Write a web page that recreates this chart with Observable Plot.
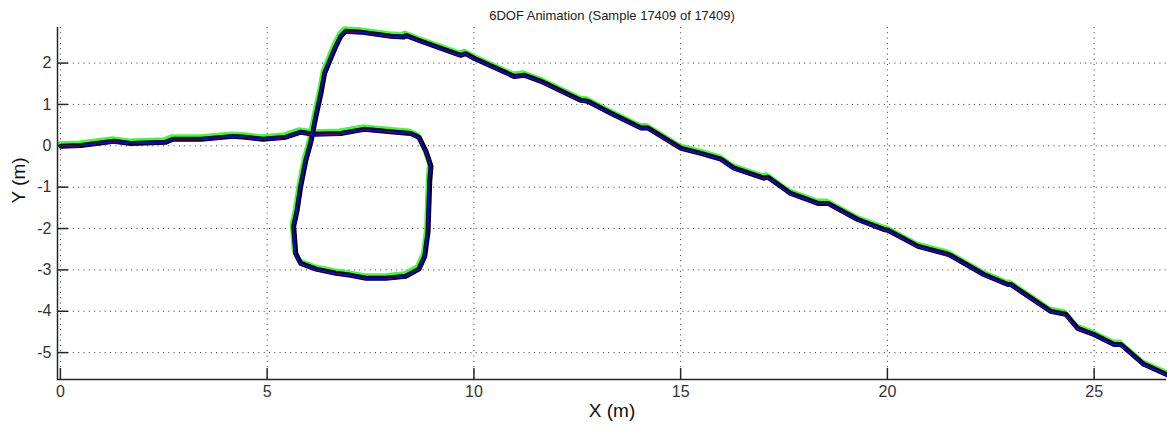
<!DOCTYPE html>
<html>
<head>
<meta charset="utf-8">
<script src="https://cdn.jsdelivr.net/npm/d3@7"></script>
<script src="https://cdn.jsdelivr.net/npm/@observablehq/plot@0.6"></script>
<style>
  html, body { margin: 0; padding: 0; background: #fff; }
  #chart svg { display: block; }
</style>
</head>
<body>
<div id="chart"></div>
<script>
const titleText = "6DOF Animation (Sample 17409 of 17409)";
const xLabel = "X (m)";
const yLabel = "Y (m)";
const xTicks = [0, 5, 10, 15, 20, 25];
const yTicks = [-5, -4, -3, -2, -1, 0, 1, 2];
const xDomain = [-0.07, 26.75];
const yDomain = [-5.65, 2.86];

const pathX = [0, 0.48, 1.28, 1.69, 2.54, 2.71, 3.39, 4.16, 4.47, 4.89, 5.44, 5.80, 6.12, 6.77, 7.33, 8.10, 8.46, 8.66, 8.83, 8.95, 8.92, 8.88, 8.80, 8.66, 8.34, 7.86, 7.38, 7.01, 6.65, 6.17, 5.80, 5.68, 5.63, 5.71, 5.80, 5.92, 6.05, 6.17, 6.29, 6.38, 6.48, 6.63, 6.77, 6.89, 7.26, 7.98, 8.29, 8.34, 8.71, 9.67, 9.79, 9.99, 10.96, 11.20, 11.61, 12.58, 12.74, 13.30, 14.03, 14.20, 15.00, 15.48, 15.96, 16.28, 17.00, 17.10, 17.65, 18.31, 18.55, 19.27, 19.90, 20.00, 20.73, 21.45, 21.52, 22.32, 22.90, 22.97, 23.94, 24.30, 24.59, 24.98, 25.47, 25.63, 26.19, 26.77];
const pathY = [0, 0.02, 0.12, 0.07, 0.10, 0.17, 0.17, 0.24, 0.22, 0.17, 0.22, 0.34, 0.29, 0.31, 0.41, 0.34, 0.31, 0.22, -0.12, -0.48, -0.85, -2.06, -2.66, -2.97, -3.14, -3.19, -3.19, -3.12, -3.07, -2.97, -2.83, -2.59, -1.93, -1.57, -0.97, -0.36, 0.12, 0.73, 1.28, 1.77, 2.01, 2.37, 2.66, 2.78, 2.76, 2.66, 2.64, 2.68, 2.54, 2.20, 2.24, 2.13, 1.69, 1.72, 1.57, 1.11, 1.09, 0.80, 0.44, 0.44, -0.05, -0.17, -0.31, -0.53, -0.77, -0.75, -1.14, -1.38, -1.38, -1.77, -2.01, -2.03, -2.42, -2.61, -2.64, -3.10, -3.34, -3.34, -3.99, -4.06, -4.40, -4.55, -4.79, -4.79, -5.27, -5.53];

const path = pathX.map((x, i) => ({x, y: pathY[i]}));

const W = 1167, H = 432;
const mL = 57, mR = 1, mT = 27, mB = 53;
const frameW = W - mL - mR, frameH = H - mT - mB;
const tickLen = 11;
const axisColor = "#262626";
const gridStyle = {stroke: "#333", strokeWidth: 1, strokeDasharray: "1,4.3"};

const chart = Plot.plot({
  width: W,
  height: H,
  marginLeft: mL,
  marginRight: mR,
  marginTop: mT,
  marginBottom: mB,
  style: {fontFamily: "'Liberation Sans', Arial, sans-serif", background: "#fff", overflow: "visible"},
  x: {domain: xDomain, axis: null},
  y: {domain: yDomain, axis: null},
  marks: [
    Plot.ruleX(xTicks, {x: d => d, ...gridStyle}),
    Plot.ruleY(yTicks, {y: d => d, ...gridStyle}),
    // path layers
    Plot.line(path, {x: "x", y: "y", stroke: "#22ff22", strokeWidth: 5, dx: -1, dy: -2, strokeLinejoin: "round", strokeOpacity: 0.9}),
    Plot.line(path, {x: "x", y: "y", stroke: "#000", strokeWidth: 5, dx: 0.5, dy: 0.5, strokeLinejoin: "round"}),
    Plot.line(path, {x: "x", y: "y", stroke: "#ff0000", strokeWidth: 1.2, dy: 0.8, strokeLinejoin: "round"}),
    Plot.line(path, {x: "x", y: "y", stroke: "#0000ff", strokeWidth: 1.6, dy: 0.5, strokeLinejoin: "round"}),
    // axes lines
    Plot.ruleX([xDomain[0]], {x: d => d, stroke: axisColor, strokeWidth: 1.5}),
    Plot.ruleY([yDomain[0]], {y: d => d, stroke: axisColor, strokeWidth: 1.5}),
    // inward ticks
    Plot.tickY(yTicks, {y: d => d, stroke: axisColor, strokeWidth: 1.5, insetRight: frameW - tickLen}),
    Plot.tickX(xTicks, {x: d => d, stroke: axisColor, strokeWidth: 1.5, insetTop: frameH - tickLen}),
    // tick labels
    Plot.text(yTicks, {y: d => d, text: d => String(d), frameAnchor: "left", dx: -6, textAnchor: "end", fontSize: 16, fill: "#333"}),
    Plot.text(xTicks, {x: d => d, text: d => String(d), frameAnchor: "bottom", dy: 6, lineAnchor: "top", fontSize: 16, fill: "#333"}),
    // labels and title
    Plot.text([xLabel], {text: d => d, frameAnchor: "bottom", dy: 37, fontSize: 19, fill: "#111"}),
    Plot.text([yLabel], {text: d => d, frameAnchor: "left", dx: -39, rotate: -90, fontSize: 19, fill: "#111"}),
    Plot.text([titleText], {text: d => d, frameAnchor: "top", dy: -17, fontSize: 13, fill: "#222"})
  ]
});

document.getElementById("chart").appendChild(chart);
</script>
</body>
</html>
